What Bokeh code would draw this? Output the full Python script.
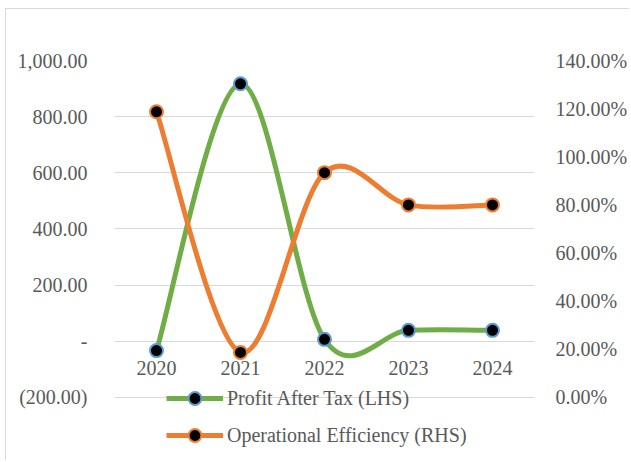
from bokeh.plotting import figure
from bokeh.models import Range1d, LinearAxis, FixedTicker, Legend, LegendItem, ColumnDataSource
from bokeh.core.properties import value
from bokeh.embed import file_html
from bokeh.resources import INLINE

years = ["2020", "2021", "2022", "2023", "2024"]
profit = [-33, 917, 7, 39, 39]
efficiency = [1.187, 0.187, 0.934, 0.800, 0.800]
lhs_ticks = [-200, 0, 200, 400, 600, 800, 1000]
lhs_labels = ["(200.00)", "-", "200.00", "400.00", "600.00", "800.00", "1,000.00"]
rhs_ticks = [0.0, 0.2, 0.4, 0.6, 0.8, 1.0, 1.2, 1.4]
rhs_labels = ["0.00%", "20.00%", "40.00%", "60.00%", "80.00%", "100.00%", "120.00%", "140.00%"]

GREEN = "#70AD47"
ORANGE = "#ED7D31"
BLUE = "#5B9BD5"
TXT = "#595959"
FONT = "Liberation Serif"
FS = "20px"

xs = list(range(len(years)))


def smooth(xv, yv):
    n = len(xv)
    d = dict(x0=[], y0=[], x1=[], y1=[], cx0=[], cy0=[], cx1=[], cy1=[])
    for i in range(n - 1):
        im1 = max(i - 1, 0)
        ip2 = min(i + 2, n - 1)
        d["x0"].append(xv[i]); d["y0"].append(yv[i])
        d["x1"].append(xv[i + 1]); d["y1"].append(yv[i + 1])
        d["cx0"].append(xv[i] + (xv[i + 1] - xv[im1]) / 6.0)
        d["cy0"].append(yv[i] + (yv[i + 1] - yv[im1]) / 6.0)
        d["cx1"].append(xv[i + 1] - (xv[ip2] - xv[i]) / 6.0)
        d["cy1"].append(yv[i + 1] - (yv[ip2] - yv[i]) / 6.0)
    return ColumnDataSource(d)


# the plot frame extends below the (200) line to hold the legend, as in the reference
p = figure(width=624, height=452, output_backend="svg", toolbar_location=None,
           x_range=Range1d(-0.5, len(years) - 0.5), y_range=Range1d(-428, 1000),
           min_border_left=108, min_border_right=94, min_border_top=51, min_border_bottom=0)
p.extra_y_ranges = {"rhs": Range1d(-0.266, 1.4)}
p.outline_line_color = None
p.background_fill_color = "white"
p.border_fill_color = "white"
p.styles = {"margin-left": "5px", "margin-top": "8px",
            "border-top": "1px solid #d9d9d9", "border-left": "1px solid #d9d9d9"}

p.xaxis.visible = False
p.xgrid.visible = False
p.ygrid.ticker = FixedTicker(ticks=lhs_ticks)
p.ygrid.grid_line_color = "#d9d9d9"
p.ygrid.grid_line_width = 1

ya = p.yaxis[0]
ya.ticker = FixedTicker(ticks=lhs_ticks)
ya.major_label_overrides = {t: l for t, l in zip(lhs_ticks, lhs_labels)}
ya.axis_line_color = None
ya.major_tick_line_color = None
ya.minor_tick_line_color = None
ya.major_label_text_font = FONT
ya.major_label_text_font_size = FS
ya.major_label_text_color = TXT
ya.major_label_standoff = 21

ra = LinearAxis(y_range_name="rhs", ticker=FixedTicker(ticks=rhs_ticks))
ra.major_label_overrides = {t: l for t, l in zip(rhs_ticks, rhs_labels)}
ra.axis_line_color = None
ra.major_tick_line_color = None
ra.minor_tick_line_color = None
ra.major_label_text_font = FONT
ra.major_label_text_font_size = FS
ra.major_label_text_color = TXT
ra.major_label_standoff = 15
ra.major_label_text_align = "left"
p.add_layout(ra, "right")

# category labels sitting under the zero line
p.text(x=xs, y=[0] * len(xs), text=years, text_align="center", text_baseline="middle",
       y_offset=27, text_font=value(FONT), text_font_size=FS, text_color=TXT)

# Profit After Tax (LHS)
gl = p.bezier(x0="x0", y0="y0", x1="x1", y1="y1", cx0="cx0", cy0="cy0", cx1="cx1", cy1="cy1",
              source=smooth(xs, profit), line_color=GREEN, line_width=5)
pm = p.scatter(xs, profit, size=13, fill_color="black", line_color=BLUE, line_width=2)

# Operational Efficiency (RHS)
ol = p.bezier(x0="x0", y0="y0", x1="x1", y1="y1", cx0="cx0", cy0="cy0", cx1="cx1", cy1="cy1",
              source=smooth(xs, efficiency), line_color=ORANGE, line_width=5, y_range_name="rhs")
om = p.scatter(xs, efficiency, size=13, fill_color="black", line_color=ORANGE, line_width=2,
               y_range_name="rhs")

legend = Legend(items=[LegendItem(label="Profit After Tax (LHS)", renderers=[gl, pm]),
                       LegendItem(label="Operational Efficiency (RHS)", renderers=[ol, om])],
                location=(52, 10), orientation="vertical")
legend.label_text_font = FONT
legend.label_text_font_size = FS
legend.label_text_color = TXT
legend.glyph_width = 57
legend.glyph_height = 32
legend.label_height = 32
legend.label_standoff = 4
legend.spacing = 5
legend.padding = 0
legend.margin = 0
legend.border_line_color = None
legend.background_fill_alpha = 0
p.add_layout(legend, "center")

open("out.html", "w").write(file_html(p, INLINE))
